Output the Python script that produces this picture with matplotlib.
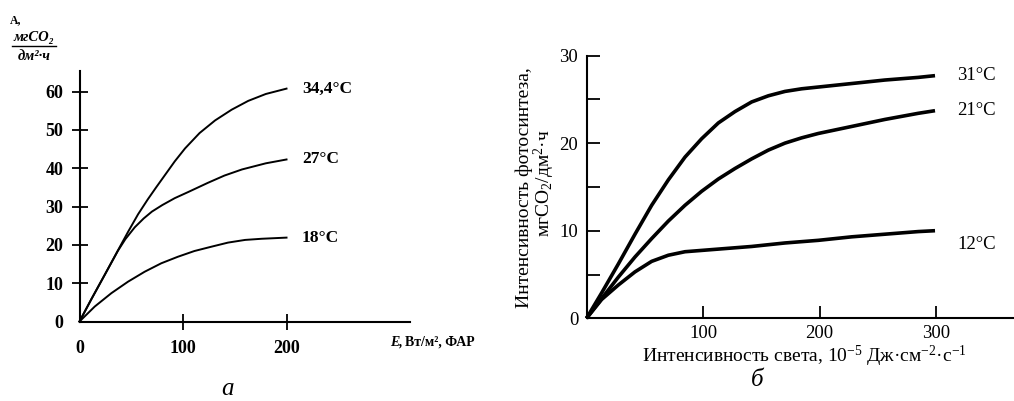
import numpy as np
import matplotlib
matplotlib.use('Agg')
import matplotlib.pyplot as plt
from matplotlib.lines import Line2D

serif = ['Liberation Serif', 'DejaVu Serif']
plt.rcParams['font.family'] = serif
plt.rcParams['mathtext.fontset'] = 'custom'
plt.rcParams['mathtext.rm'] = 'Liberation Serif'
plt.rcParams['mathtext.it'] = 'Liberation Serif:italic'
plt.rcParams['mathtext.bf'] = 'Liberation Serif:bold'

# --- panel a: light curves of photosynthesis at 3 temperatures ---
a_ticks_x = [0, 100, 200]
a_ticks_y = [0, 10, 20, 30, 40, 50, 60]

a_x_344 = [0, 11.4, 24.4, 37.2, 46.9, 56.6, 66, 74, 83, 92, 102, 116, 131, 147, 163, 180, 200]
a_y_344 = [0, 5.8, 12.2, 18.6, 23.4, 28.0, 31.9, 35.0, 38.4, 41.8, 45.2, 49.2, 52.5, 55.3, 57.6, 59.4, 60.8]
a_x_27 = [0, 11.4, 24.4, 37.2, 44.3, 53.4, 62, 70, 80, 92, 105, 124, 140, 157, 180, 200]
a_y_27 = [0, 5.8, 12.2, 18.5, 21.5, 24.6, 26.9, 28.7, 30.4, 32.2, 33.8, 36.2, 38.1, 39.7, 41.3, 42.3]
a_x_18 = [0, 14.7, 30.8, 46.9, 63, 79, 95, 111, 127, 143.5, 160, 176, 200]
a_y_18 = [0, 3.9, 7.4, 10.4, 13.0, 15.2, 16.9, 18.4, 19.5, 20.6, 21.3, 21.6, 21.9]
a_labels = ['34,4°C', '27°C', '18°C']

# --- panel b ---
b_ticks_x = [100, 200, 300]
b_ticks_y = [0, 10, 20, 30]
b_minor_y = [5, 15, 25]

b_x_31 = [0, 13, 27.3, 41.6, 55.9, 70.2, 84.5, 98.8, 113.1, 127.4, 141.7, 156, 170.3, 184.6, 198.9, 227.5, 256, 284.6, 299]
b_y_31 = [0, 2.9, 6.2, 9.6, 12.9, 15.8, 18.4, 20.5, 22.3, 23.6, 24.7, 25.4, 25.9, 26.2, 26.4, 26.8, 27.2, 27.5, 27.7]
b_x_21 = [0, 13, 27.3, 41.6, 55.9, 70.2, 84.5, 98.8, 113.1, 127.4, 141.7, 156, 170.3, 184.6, 198.9, 227.5, 256, 284.6, 299]
b_y_21 = [0, 2.25, 4.7, 7.0, 9.1, 11.1, 12.9, 14.5, 15.9, 17.1, 18.2, 19.2, 20.0, 20.6, 21.1, 21.9, 22.7, 23.4, 23.7]
b_x_12 = [0, 13, 27.3, 41.6, 55.9, 70.2, 84.5, 113.1, 141.7, 170.3, 198.9, 227.5, 256, 284.6, 299]
b_y_12 = [0, 2.15, 3.8, 5.3, 6.5, 7.2, 7.6, 7.9, 8.2, 8.6, 8.9, 9.3, 9.6, 9.9, 10.0]
b_labels = ['31°C', '21°C', '12°C']

W, H = 1014, 401
fig = plt.figure(figsize=(W / 100, H / 100), dpi=100)

def px(x0, y0, x1, y1):
    return [x0 / W, 1 - y1 / H, (x1 - x0) / W, (y1 - y0) / H]

# ---------------- panel a ----------------
ax = fig.add_axes(px(79.5, 71, 410, 321.5))
ax.set_xlim(0, 319.3)
ax.set_ylim(0, 65.4)
for s in ['top', 'right']:
    ax.spines[s].set_visible(False)
for s in ['left', 'bottom']:
    ax.spines[s].set_linewidth(1.5)

for xs, ys in [(a_x_344, a_y_344), (a_x_27, a_y_27), (a_x_18, a_y_18)]:
    ax.plot(xs, ys, color='black', lw=1.4, clip_on=False, solid_joinstyle='round')

ax.set_xticks(a_ticks_x)
ax.set_yticks(a_ticks_y)
ax.tick_params(direction='inout', length=11, width=1.3, labelsize=13)
ax.tick_params(axis='y', pad=6)
ax.tick_params(axis='x', pad=8)
for lab in ax.get_xticklabels() + ax.get_yticklabels():
    lab.set_fontweight('bold')
ax.xaxis.get_major_ticks()[0].tick1line.set_visible(False)
ax.yaxis.get_major_ticks()[0].tick1line.set_visible(False)

for lab, yy in zip(a_labels, [a_y_344[-1], a_y_27[-1], a_y_18[-1]]):
    ax.text(215, yy, lab, fontsize=12.5, fontweight='bold', va='center', ha='left')

fig.text(390 / W, 1 - 342 / H, 'E,', fontsize=10, fontweight='bold', style='italic',
         va='center', ha='left')
fig.text(405 / W, 1 - 342 / H, 'Вт/м², ФАР', fontsize=10, fontweight='bold',
         va='center', ha='left')

# y-axis unit (fraction) top-left
fig.text(10 / W, 1 - 20 / H, 'А,', fontsize=8.5, fontweight='bold', va='center', ha='left')
fig.text(34 / W, 1 - 38 / H, 'мгCO₂', fontsize=10.5, fontweight='bold', style='italic',
         va='center', ha='center')
fig.add_artist(Line2D([12 / W, 56 / W], [1 - 46 / H, 1 - 46 / H], color='black', lw=1.0))
fig.text(34 / W, 1 - 56 / H, 'дм²·ч', fontsize=10.5, fontweight='bold', style='italic',
         va='center', ha='center')

fig.text(228 / W, 1 - 389 / H, 'а', fontsize=18, style='italic', va='center', ha='center')

# ---------------- panel b ----------------
bx = fig.add_axes(px(586.5, 55.5, 1013, 318.3))
bx.set_xlim(0, 365.9)
bx.set_ylim(0, 30)
for s in ['top', 'right']:
    bx.spines[s].set_visible(False)
for s in ['left', 'bottom']:
    bx.spines[s].set_linewidth(1.5)

for xs, ys in [(b_x_31, b_y_31), (b_x_21, b_y_21), (b_x_12, b_y_12)]:
    bx.plot(xs, ys, color='black', lw=2.6, clip_on=False, solid_capstyle='butt',
            solid_joinstyle='round')

bx.set_xticks(b_ticks_x)
bx.set_yticks(b_ticks_y)
bx.set_yticks(b_minor_y, minor=True)
bx.tick_params(which='both', direction='in', length=9, width=1.3, labelsize=13.5)
bx.tick_params(axis='y', pad=6)
bx.tick_params(axis='x', pad=5)
bx.yaxis.get_major_ticks()[0].tick1line.set_visible(False)

for lab, yy, dy in zip(b_labels, [b_y_31[-1], b_y_21[-1], b_y_12[-1]], [0, 0, -1.6]):
    bx.text(318, yy + dy, lab, fontsize=13.5, va='center', ha='left')

fig.text(804 / W, 1 - 356 / H, 'Интенсивность света, 10$^{-5}$ Дж·см$^{-2}$·с$^{-1}$',
         fontsize=14, va='center', ha='center')
fig.text(524 / W, 1 - 188 / H, 'Интенсивность фотосинтеза,', fontsize=14,
         rotation=90, va='center', ha='center')
fig.text(544 / W, 1 - 183 / H, 'мгCO$_2$/дм$^2$·ч', fontsize=14,
         rotation=90, va='center', ha='center')

fig.text(757 / W, 1 - 380 / H, 'б', fontsize=18, style='italic', va='center', ha='center')

fig.savefig('out.png', dpi=100)
